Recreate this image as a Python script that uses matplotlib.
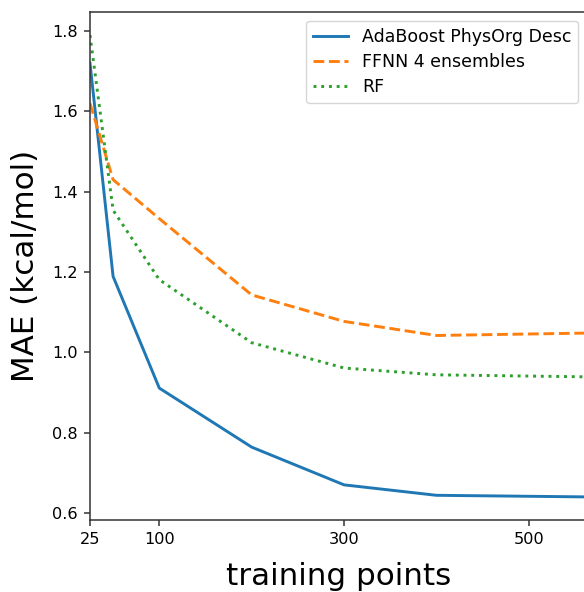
import matplotlib
matplotlib.use('Agg')
import matplotlib.pyplot as plt

# training set sizes
points = [25, 50, 100, 200, 300, 400, 563]

# MAE values (kcal/mol)
mae_adaboost = [1.72, 1.189, 0.911, 0.764, 0.670, 0.644, 0.640]
mae_ffnn = [1.62, 1.43, 1.333, 1.143, 1.077, 1.042, 1.048]
mae_rf = [1.79, 1.354, 1.181, 1.024, 0.961, 0.944, 0.939]

xticks = [25, 100, 300, 500]

fig = plt.figure(figsize=(5.84, 5.92), dpi=100)
ax = fig.add_axes([90 / 584, 1 - 520 / 592, 497 / 584, 508 / 592])

lw = 2.1
ax.plot(points, mae_adaboost, '-', lw=lw, color='#1f77b4', label='AdaBoost PhysOrg Desc')
ax.plot(points, mae_ffnn, '--', lw=lw, color='#ff7f0e', label='FFNN 4 ensembles')
ax.plot(points, mae_rf, ':', lw=lw, color='#2ca02c', label='RF')

ax.set_xlim(25, 563)
ax.set_xticks(xticks)
for s in ax.spines.values():
    s.set_linewidth(1.1)
    s.set_color('#333333')
ax.tick_params(labelsize=11.6, length=4.5, width=1.1, pad=4.2, color='#333333')
ax.set_xlabel('training points', fontsize=22.3, labelpad=10.5)
ax.set_ylabel('MAE (kcal/mol)', fontsize=22.3, labelpad=9)
ax.legend(loc='upper right', fontsize=12.5, labelspacing=0.42)

fig.savefig('out.png', dpi=100)
